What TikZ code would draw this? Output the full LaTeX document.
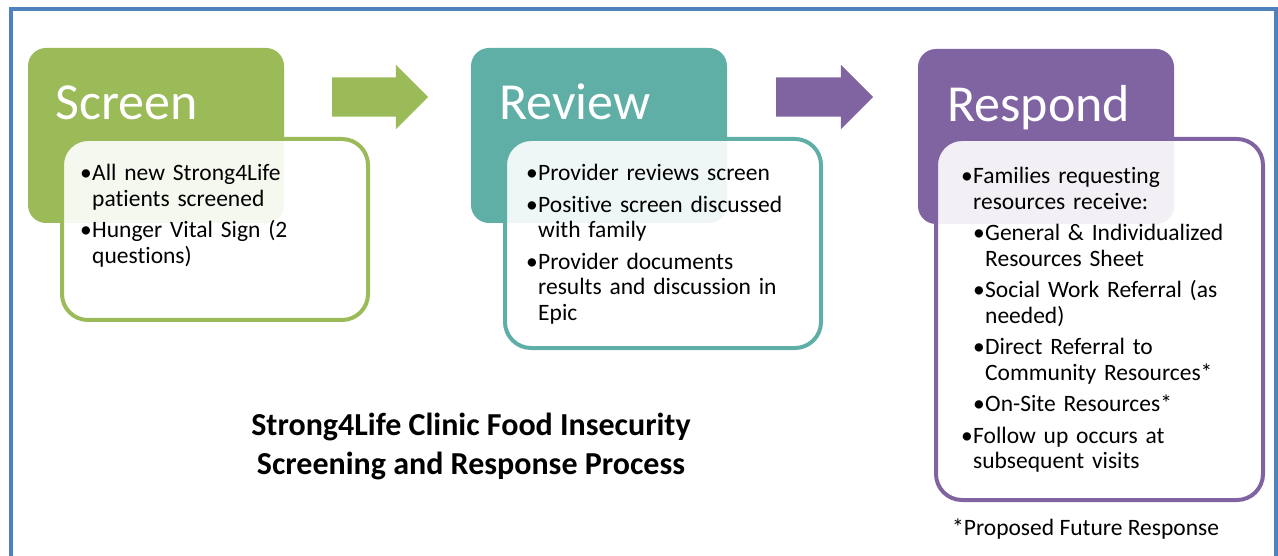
\documentclass[tikz,border=0pt]{standalone}
\usepackage{fontspec}
\setmainfont{Carlito}[Ligatures=NoCommon]
\usetikzlibrary{shapes.arrows}

\definecolor{frame}{HTML}{4F81BD}
\definecolor{screen}{HTML}{9BBB59}
\definecolor{review}{HTML}{60AFA6}
\definecolor{respond}{HTML}{8064A2}

% one bullet point and one indented bullet point, \nl breaks a line inside them
\newcommand{\nl}{\hfil\break}
\newcommand{\Pt}[1]{\par\hangindent=12pt\hangafter=1\noindent\hbox to 12pt{\textbullet\hss}#1\par}
\newcommand{\SubPt}[1]{\par\hangindent=24pt\hangafter=1\noindent\hskip12pt\hbox to 12pt{\textbullet\hss}#1\par}

\tikzset{
  head/.style={rounded corners=18pt, minimum width=256pt, minimum height=175pt,
    inner sep=0pt, outer sep=0pt, anchor=north west},
  headtext/.style={text=white, inner sep=0pt, anchor=base west,
    font=\fontsize{52}{60}\selectfont},
  body/.style={draw=#1, fill=white, fill opacity=0.9, line width=4pt,
    rounded corners=26pt, inner sep=0pt, outer sep=0pt, anchor=north west},
  list/.style={text width=#1, inner sep=0pt, anchor=north west,
    font=\fontsize{23.5}{25.5}\selectfont\raggedright\setlength{\parskip}{6pt}},
  flow/.style={single arrow, single arrow head extend=12.5pt, single arrow tip angle=90,
    minimum height=96pt, inner xsep=0pt, inner ysep=19.5pt, outer sep=0pt, anchor=tail}
}

\begin{document}
\begin{tikzpicture}[x=1pt, y=-1pt]
  \useasboundingbox (0,0) rectangle (1278,556);

  % ---- outer frame --------------------------------------------------------
  \draw[frame, line width=4pt] (11,570) -- (11,9) -- (1276,9) -- (1276,570);

  % ---- screen -------------------------------------------------------------
  \node[head, fill=screen] (screenhead) at (28,48) {};
  \node[headtext] (screenname) at (55,120) {Screen};
  \node[body=screen, minimum width=306pt, minimum height=181pt] (screenbody) at (62,139) {};
  \node[list=290pt] (screenlist) at (80,149) {%
    \Pt{All new Strong4Life\nl patients screened}
    \Pt{Hunger Vital Sign (2\nl questions)}};

  \node[flow, fill=screen] (go1) at (332,97) {};

  % ---- review -------------------------------------------------------------
  \node[head, fill=review] (reviewhead) at (471,48) {};
  \node[headtext] (reviewname) at (499,120) {Review};
  \node[body=review, minimum width=316pt, minimum height=209pt] (reviewbody) at (505,139) {};
  \node[list=290pt] (reviewlist) at (526,149) {%
    \Pt{Provider reviews screen}
    \Pt{Positive screen discussed\nl with family}
    \Pt{Provider documents\nl results and discussion in\nl Epic}};

  \node[flow, fill=respond, minimum height=97pt] (go2) at (776,97) {};

  % ---- respond ------------------------------------------------------------
  \node[head, fill=respond] (respondhead) at (918,49) {};
  \node[headtext] (respondname) at (947,122) {Respond};
  \node[body=respond, minimum width=327pt, minimum height=361pt] (respondbody) at (936,139) {};
  \node[list=300pt] (respondlist) at (961,152) {%
    \Pt{Families requesting\nl resources receive:}
    \SubPt{General \& Individualized\nl Resources Sheet}
    \SubPt{Social Work Referral (as\nl needed)}
    \SubPt{Direct Referral to\nl Community Resources*}
    \SubPt{On-Site Resources*}
    \Pt{Follow up occurs at\nl subsequent visits}};

  \node[inner sep=0pt, anchor=base west, font=\fontsize{23.5}{25.5}\selectfont]
    (future) at (952,535) {*Proposed Future Response};

  % ---- caption ------------------------------------------------------------
  \node[inner sep=0pt, anchor=north, align=center, font=\bfseries\fontsize{32}{39}\selectfont]
    (caption) at (471,413) {Strong4Life Clinic Food Insecurity\\Screening and Response Process};

\end{tikzpicture}
\end{document}
